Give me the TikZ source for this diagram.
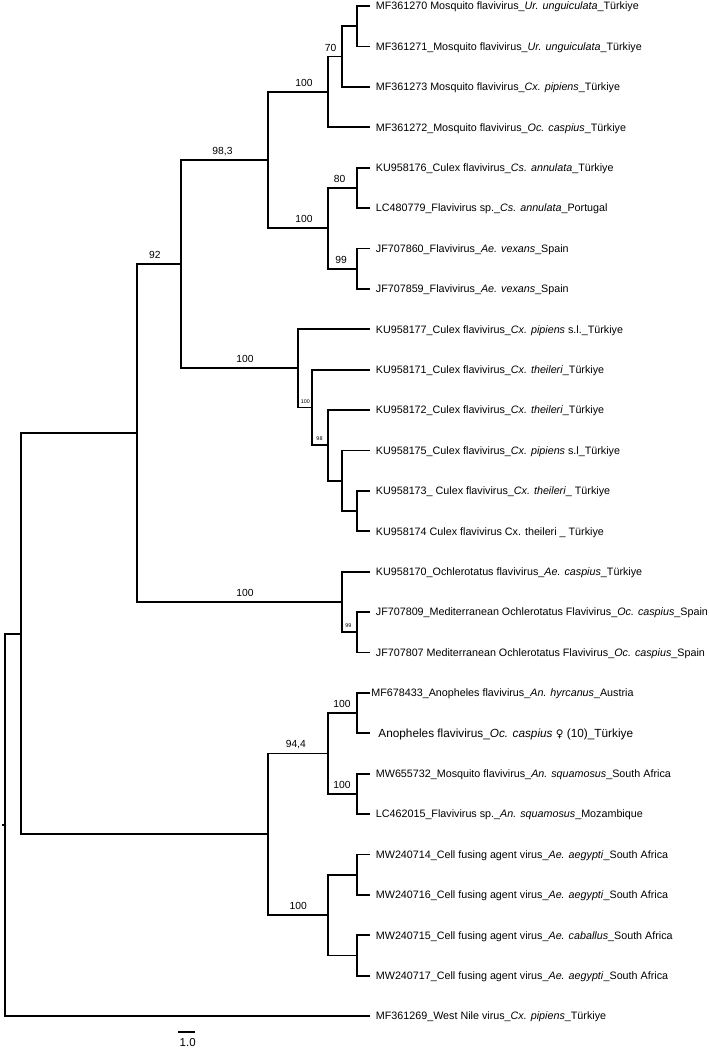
\documentclass[tikz,border=0pt]{standalone}
\usepackage{fontspec}
\setmainfont{Liberation Sans}
\newfontfamily\symfont{DejaVu Sans}
\begin{document}
\begin{tikzpicture}[x=1pt,y=-1pt,line width=1.8pt,
  leaf/.style={anchor=base west,inner sep=0pt,xshift=5pt,yshift=-3.85pt,font=\fontsize{10.75}{12}\selectfont},
  boot/.style={anchor=base,inner sep=0pt,yshift=5.5pt,font=\fontsize{10.3}{12}\selectfont},
  bootsmall/.style={anchor=base,inner sep=0pt,yshift=4.5pt,font=\fontsize{5.4}{6}\selectfont}]

\useasboundingbox (0,0) rectangle (709,1050);

\coordinate (l1) at (370,6);
\coordinate (l2) at (370,46.4);
\coordinate (l3) at (370,86.8);
\coordinate (l4) at (370,127.2);
\coordinate (l5) at (370,167.6);
\coordinate (l6) at (370,208);
\coordinate (l7) at (370,248.4);
\coordinate (l8) at (370,288.8);
\coordinate (l9) at (370,329.2);
\coordinate (l10) at (370,369.6);
\coordinate (l11) at (370,410);
\coordinate (l12) at (370,450.4);
\coordinate (l13) at (370,490.8);
\coordinate (l14) at (370,531.2);
\coordinate (l15) at (370,571.6);
\coordinate (l16) at (370,612);
\coordinate (l17) at (370,652.4);
\coordinate (l18) at (370,692.8);
\coordinate (l19) at (370,733.2);
\coordinate (l20) at (370,773.6);
\coordinate (l21) at (370,814);
\coordinate (l22) at (370,854.4);
\coordinate (l23) at (370,894.8);
\coordinate (l24) at (370,935.2);
\coordinate (l25) at (370,975.6);
\coordinate (l26) at (370,1016);

\node[leaf] (t1) at (l1) {MF361270 Mosquito flavivirus\_\textit{Ur. unguiculata}\_Türkiye};
\node[leaf] (t2) at (l2) {MF361271\_Mosquito flavivirus\_\textit{Ur. unguiculata}\_Türkiye};
\node[leaf] (t3) at (l3) {MF361273 Mosquito flavivirus\_\textit{Cx. pipiens}\_Türkiye};
\node[leaf] (t4) at (l4) {MF361272\_Mosquito flavivirus\_\textit{Oc. caspius}\_Türkiye};
\node[leaf] (t5) at (l5) {KU958176\_Culex flavivirus\_\textit{Cs. annulata}\_Türkiye};
\node[leaf] (t6) at (l6) {LC480779\_Flavivirus sp.\_\textit{Cs. annulata}\_Portugal};
\node[leaf] (t7) at (l7) {JF707860\_Flavivirus\_\textit{Ae. vexans}\_Spain};
\node[leaf] (t8) at (l8) {JF707859\_Flavivirus\_\textit{Ae. vexans}\_Spain};
\node[leaf] (t9) at (l9) {KU958177\_Culex flavivirus\_\textit{Cx. pipiens} s.l.\_Türkiye};
\node[leaf] (t10) at (l10) {KU958171\_Culex flavivirus\_\textit{Cx. theileri}\_Türkiye};
\node[leaf] (t11) at (l11) {KU958172\_Culex flavivirus\_\textit{Cx. theileri}\_Türkiye};
\node[leaf] (t12) at (l12) {KU958175\_Culex flavivirus\_\textit{Cx. pipiens} s.l\_Türkiye};
\node[leaf] (t13) at (l13) {KU958173\_ Culex flavivirus\_\textit{Cx. theileri}\_ Türkiye};
\node[leaf] (t14) at (l14) {KU958174 Culex flavivirus Cx. theileri \_ Türkiye};
\node[leaf] (t15) at (l15) {KU958170\_Ochlerotatus flavivirus\_\textit{Ae. caspius}\_Türkiye};
\node[leaf] (t16) at (l16) {JF707809\_Mediterranean Ochlerotatus Flavivirus\_\textit{Oc. caspius}\_Spain};
\node[leaf] (t17) at (l17) {JF707807 Mediterranean Ochlerotatus Flavivirus\_\textit{Oc. caspius}\_Spain};
\node[leaf,xshift=-4.5pt] (t18) at (l18) {MF678433\_Anopheles flavivirus\_\textit{An. hyrcanus}\_Austria};
\node[leaf,xshift=2.5pt,yshift=-0.4pt,font=\fontsize{11.8}{13}\selectfont] (t19) at (l19) {Anopheles flavivirus\_\textit{Oc. caspius} {\symfont\fontsize{10.5}{12}\selectfont ♀} (10)\_Türkiye};
\node[leaf] (t20) at (l20) {MW655732\_Mosquito flavivirus\_\textit{An. squamosus}\_South Africa};
\node[leaf] (t21) at (l21) {LC462015\_Flavivirus sp.\_\textit{An. squamosus}\_Mozambique};
\node[leaf] (t22) at (l22) {MW240714\_Cell fusing agent virus\_\textit{Ae. aegypti}\_South Africa};
\node[leaf] (t23) at (l23) {MW240716\_Cell fusing agent virus\_\textit{Ae. aegypti}\_South Africa};
\node[leaf] (t24) at (l24) {MW240715\_Cell fusing agent virus\_\textit{Ae. caballus}\_South Africa};
\node[leaf] (t25) at (l25) {MW240717\_Cell fusing agent virus\_\textit{Ae. aegypti}\_South Africa};
\node[leaf] (t26) at (l26) {MF361269\_West Nile virus\_\textit{Cx. pipiens}\_Türkiye};

\coordinate (urA) at (356.7,26.2);
\coordinate (n70) at (341.7,56.5);
\coordinate (n100a) at (327.7,91.85);
\coordinate (n80) at (356.7,187.8);
\coordinate (n99a) at (356.7,268.6);
\coordinate (n100b) at (327.7,228.2);
\coordinate (n983) at (268.3,160);
\coordinate (cxA) at (356.7,511);
\coordinate (cxB) at (341.7,480.7);
\coordinate (n98) at (327.7,445.35);
\coordinate (n100s) at (312.3,407.5);
\coordinate (n100c) at (297.7,368.35);
\coordinate (n92) at (181,264.2);
\coordinate (n99b) at (356.7,632.2);
\coordinate (n100d) at (341.7,601.9);
\coordinate (flaA) at (137.3,433.05);
\coordinate (n100e) at (356.7,713);
\coordinate (n100f) at (356.7,793.8);
\coordinate (n944) at (327.7,753.4);
\coordinate (cfA) at (356.7,874.6);
\coordinate (cfB) at (356.7,955.4);
\coordinate (n100g) at (327.7,915);
\coordinate (anoA) at (268.3,834.2);
\coordinate (inA) at (20.7,633.6);
\coordinate (root) at (5.3,824.8);
\coordinate (stub) at (1.5,824.8);

\draw (urA) |- (l1);
\draw (urA) |- (l2);
\draw (n70) |- (urA);
\draw (n70) |- (l3);
\draw (n100a) |- (n70);
\draw (n100a) |- (l4);
\draw (n80) |- (l5);
\draw (n80) |- (l6);
\draw (n99a) |- (l7);
\draw (n99a) |- (l8);
\draw (n100b) |- (n80);
\draw (n100b) |- (n99a);
\draw (n983) |- (n100a);
\draw (n983) |- (n100b);

\draw (cxA) |- (l13);
\draw (cxA) |- (l14);
\draw (cxB) |- (l12);
\draw (cxB) |- (cxA);
\draw (n98) |- (l11);
\draw (n98) |- (cxB);
\draw (n100s) |- (l10);
\draw (n100s) |- (n98);
\draw (n100c) |- (l9);
\draw (n100c) |- (n100s);
\draw (n92) |- (n983);
\draw (n92) |- (n100c);

\draw (n99b) |- (l16);
\draw (n99b) |- (l17);
\draw (n100d) |- (l15);
\draw (n100d) |- (n99b);
\draw (flaA) |- (n92);
\draw (flaA) |- (n100d);

\draw (n100e) |- (l18);
\draw (n100e) |- (l19);
\draw (n100f) |- (l20);
\draw (n100f) |- (l21);
\draw (n944) |- (n100e);
\draw (n944) |- (n100f);
\draw (cfA) |- (l22);
\draw (cfA) |- (l23);
\draw (cfB) |- (l24);
\draw (cfB) |- (l25);
\draw (n100g) |- (cfA);
\draw (n100g) |- (cfB);
\draw (anoA) |- (n944);
\draw (anoA) |- (n100g);

\draw (inA) |- (flaA);
\draw (inA) |- (anoA);
\draw (root) |- (inA);
\draw (root) |- (l26);
\draw (root) -- (stub);

\node[boot] (b70) at (330.5,56.5) {70};
\node[boot] (b100a) at (304,91.85) {100};
\node[boot] (b80) at (339.5,187.8) {80};
\node[boot] (b99a) at (341,268.6) {99};
\node[boot] (b100b) at (304,228.2) {100};
\node[boot] (b983) at (222.5,160) {98,3};
\node[boot] (b92) at (154.8,264.2) {92};
\node[boot] (b100c) at (245,368.35) {100};
\node[bootsmall] (b100s) at (305.3,407.5) {100};
\node[bootsmall] (b98) at (319.5,445.35) {98};
\node[bootsmall] (b99b) at (348.3,632.2) {99};
\node[boot] (b100d) at (245,601.9) {100};
\node[boot] (b100e) at (342,713) {100};
\node[boot] (b100f) at (342,793.8) {100};
\node[boot] (b944) at (295.8,753.4) {94,4};
\node[boot] (b100g) at (298.3,915) {100};

\coordinate (sbA) at (178.3,1031.7);
\coordinate (sbB) at (195,1031.7);
\draw (sbA) -- (sbB);
\node[anchor=base,inner sep=0pt,font=\fontsize{11.5}{13}\selectfont] (sbl) at (187.7,1046.8) {1.0};
\end{tikzpicture}
\end{document}
